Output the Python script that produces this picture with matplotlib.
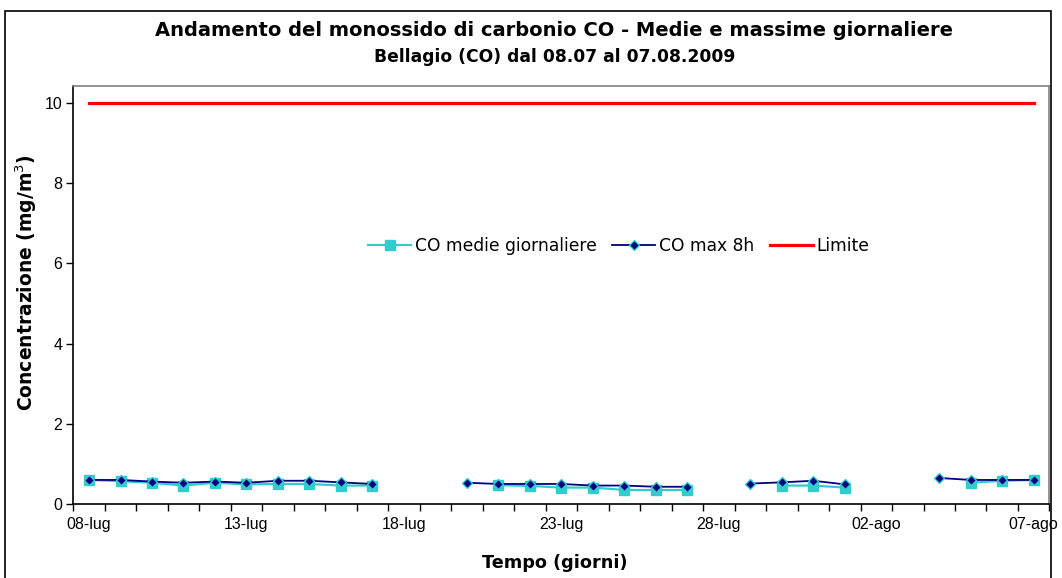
import numpy as np
import matplotlib
matplotlib.use('Agg')
import matplotlib.pyplot as plt
from matplotlib.patches import Rectangle

plt.rcParams['font.family'] = ['Liberation Sans', 'DejaVu Sans']

# giorni dal 08.07 al 07.08.2009
giorni = ['08-lug', '09-lug', '10-lug', '11-lug', '12-lug', '13-lug', '14-lug', '15-lug',
          '16-lug', '17-lug', '18-lug', '19-lug', '20-lug', '21-lug', '22-lug', '23-lug',
          '24-lug', '25-lug', '26-lug', '27-lug', '28-lug', '29-lug', '30-lug', '31-lug',
          '01-ago', '02-ago', '03-ago', '04-ago', '05-ago', '06-ago', '07-ago']
nan = np.nan
co_medie = [0.60, 0.57, 0.53, 0.46, 0.53, 0.49, 0.50, 0.50, 0.46, 0.46,
            nan, nan, nan, 0.47, 0.45, 0.41, 0.41, 0.35, 0.35, 0.35,
            nan, nan, 0.46, 0.46, 0.41, nan, nan, nan, 0.53, 0.58, 0.60]
co_max8h = [0.60, 0.60, 0.56, 0.53, 0.56, 0.53, 0.58, 0.58, 0.54, 0.50,
            nan, nan, 0.53, 0.50, 0.50, 0.50, 0.46, 0.46, 0.43, 0.43,
            nan, 0.51, 0.54, 0.58, 0.49, nan, nan, 0.65, 0.60, 0.60, 0.60]
limite = [10] * len(giorni)

x = np.arange(len(giorni))

fig = plt.figure(figsize=(10.62, 5.78), dpi=100)
ax = fig.add_axes([0.069, 0.128, 0.9192, 0.723])

ax.plot(x, co_medie, color='#33CCCC', lw=1.6, marker='s', ms=7.5,
        mfc='#33CCCC', mec='#33CCCC', label='CO medie giornaliere', zorder=3)
ax.plot(x, co_max8h, color='#000080', lw=1.3, marker='D', ms=5,
        mfc='#000080', mec='#33CCCC', mew=1, label='CO max 8h', zorder=4)
ax.plot(x, limite, color='#FF0000', lw=2.3, label='Limite', zorder=2)

ax.set_xlim(-0.5, len(giorni) - 0.5)
ax.set_ylim(0, 10.42)
ax.set_yticks([0, 2, 4, 6, 8, 10])
ax.set_xticks(x[::5])
ax.set_xticklabels(giorni[::5])
ax.set_xticks(np.arange(-0.5, len(giorni)), minor=True)
ax.tick_params(axis='x', which='major', length=0, pad=9, labelsize=11.5)
ax.tick_params(axis='x', which='minor', length=5, direction='out', width=1)
ax.tick_params(axis='y', length=5, direction='out', width=1, labelsize=11.5, pad=3)

for s in ['left', 'bottom']:
    ax.spines[s].set_color('black')
    ax.spines[s].set_linewidth(1.2)
for s in ['top', 'right']:
    ax.spines[s].set_color('#808080')
    ax.spines[s].set_linewidth(1.2)

ax.set_ylabel('Concentrazione (mg/m$^3$)', fontsize=13.5, fontweight='bold',
              family='DejaVu Sans')
ax.yaxis.set_label_coords(-0.035, 0.53)
ax.set_xlabel('Tempo (giorni)', fontsize=12.7, fontweight='bold', family='DejaVu Sans')
ax.xaxis.set_label_coords(0.4935, -0.12)

ax.legend(loc='center', bbox_to_anchor=(0.559, 0.618), ncol=3, frameon=False,
          prop={'family': 'DejaVu Sans', 'size': 12.3},
          handlelength=2.5, handletextpad=0.25, columnspacing=0.9)

fig.text(0.5217, 1 - 35.7 / 578, 'Andamento del monossido di carbonio CO - Medie e massime giornaliere',
         ha='center', va='baseline', fontsize=14, fontweight='bold', family='DejaVu Sans')
fig.text(0.5226, 1 - 61.7 / 578, 'Bellagio (CO) dal 08.07 al 07.08.2009',
         ha='center', va='baseline', fontsize=12.3, fontweight='bold', family='DejaVu Sans')

# cornice esterna del grafico
fig.add_artist(Rectangle((4.5 / 1062, -0.05), 1046 / 1062, 1.05 - 10.5 / 578,
                         transform=fig.transFigure, fill=False, ec='black', lw=1.2))

fig.savefig('out.png', dpi=100)
